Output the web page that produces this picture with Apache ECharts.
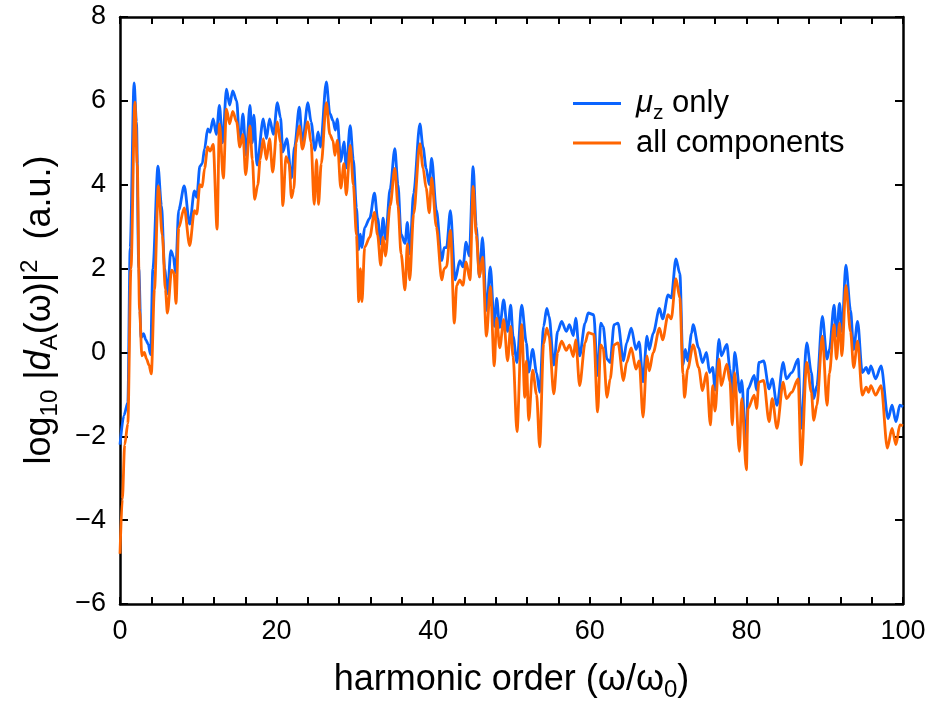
<!DOCTYPE html>
<html>
<head>
<meta charset="utf-8">
<script src="https://cdn.jsdelivr.net/npm/echarts@6/dist/echarts.min.js"></script>
<style>
  html, body { margin: 0; padding: 0; background: #fff; }
  #chart { width: 933px; height: 707px; }
</style>
</head>
<body>
<div id="chart"></div>
<script>
// Harmonic spectrum, dipole along z only
const harmonicMu = [
  0, 0.5, 1.0, 1.3, 1.8, 2.1, 2.4, 2.7, 3.0, 3.3,
  3.6, 3.9, 4.2, 4.85, 5.3, 5.7, 6.05, 6.5, 6.8, 7.1,
  7.5, 8.2, 8.9, 9.5, 9.8, 10.2, 10.5, 10.8, 11.2, 11.5,
  11.9, 12.3, 12.7, 13.1, 13.6, 14.0, 14.4, 14.9, 15.3, 15.7,
  16.1, 16.6, 16.9, 17.1, 17.5, 18.3, 18.7, 19.1, 19.6, 20.1,
  20.5, 20.8, 21.3, 21.9, 22.3, 22.9, 23.3, 24.0, 24.4, 24.9,
  25.3, 25.6, 26.35, 26.8, 27.2, 27.5, 27.75, 28.2, 28.6, 28.9,
  29.4, 29.8, 30.2, 30.5, 30.7, 30.9, 31.25, 31.9, 32.5, 32.9,
  33.3, 33.6, 33.9, 34.5, 35.1, 35.5, 35.9, 36.4, 36.7, 37.0,
  37.5, 38.3, 38.7, 39.1, 39.5, 39.8, 40.4, 41.1, 41.4, 41.7,
  42.2, 42.8, 43.4, 43.8, 44.2, 44.6, 45.1, 45.5, 45.9, 46.3,
  46.8, 47.3, 47.8, 48.1, 48.5, 49.0, 49.5, 49.9, 50.2, 50.7,
  51.3, 51.9, 52.2, 52.7, 53.2, 53.6, 54.1, 54.5, 54.8, 55.4,
  55.9, 56.4, 57.0, 57.4, 57.9, 58.2, 58.7, 59.4, 59.8, 60.5,
  61.0, 61.4, 61.7, 62.2, 62.6, 63.1, 63.6, 64.3, 64.7, 65.3,
  65.9, 66.3, 66.8, 67.3, 67.6, 68.1, 68.9, 69.3, 70.0, 70.4,
  71.0, 71.5, 71.9, 72.2, 72.5, 73.0, 73.2, 73.9, 74.4, 74.9,
  75.3, 75.7, 76.0, 76.5, 76.8, 77.5, 77.9, 78.2, 78.5, 79.2,
  79.4, 79.95, 80.2, 81.0, 81.3, 81.6, 82.2, 82.9, 83.3, 83.9,
  84.7, 85.1, 85.8, 86.6, 87.0, 87.7, 88.3, 88.6, 89.0, 89.7,
  90.3, 90.6, 91.2, 91.5, 91.9, 92.2, 92.7, 93.3, 93.7, 94.2,
  94.8, 95.3, 95.6, 95.9, 96.5, 97.2, 98.1, 98.6, 99.1, 99.6,
  100
];
const logMu = [
  -2.2, -1.5, -1.2, 2.5, 6.43, 5.5, 2.0, 0.35, 0.45, 0.3,
  0.2, -0.05, 2.0, 4.44, 3.5, 2.0, 1.4, 2.43, 2.3, 1.9,
  3.4, 3.97, 3.06, 3.85, 3.7, 4.44, 4.5, 4.86, 5.33, 5.25,
  5.57, 5.2, 5.89, 5.0, 6.28, 5.9, 6.24, 6.0, 4.94, 5.69,
  4.7, 5.89, 5.0, 5.66, 4.47, 5.57, 5.1, 5.57, 5.2, 5.96,
  5.6, 4.78, 5.1, 4.16, 4.9, 5.85, 5.0, 5.96, 5.5, 4.82,
  5.26, 4.9, 6.45, 5.7, 5.53, 5.3, 5.57, 4.55, 5.02, 4.4,
  5.41, 4.6, 3.45, 2.45, 2.82, 2.5, 2.98, 3.2, 3.8, 3.2,
  2.59, 3.2, 2.7, 3.9, 4.86, 4.0, 2.82, 2.6, 3.1, 2.35,
  3.8, 5.45, 4.9, 4.39, 4.0, 4.63, 3.4, 2.19, 2.5, 2.5,
  3.38, 1.73, 2.19, 2.04, 2.63, 2.3, 4.43, 3.0, 1.8, 2.74,
  1.0, 2.04, 0.62, 1.29, 0.6, 1.25, 0.5, 1.13, 0.39, -0.24,
  1.13, 0.23, -0.47, 0.07, -0.48, -0.95, 0.62, 1.05, 0.86, -0.3,
  0.5, 0.74, 0.5, 0.66, 0.4, 0.82, -0.08, 0.7, 0.94, 0.9,
  -0.55, 0.7, 0.62, -0.16, -0.24, 0.66, 0.7, -0.2, 0.23, 0.58,
  0.07, 0.25, -0.7, 0.39, 0.07, 0.46, 1.05, 0.8, 1.37, 1.3,
  2.23, 1.88, -0.3, 0.07, -0.2, 0.46, 0.66, 0.11, -0.24, 0.0,
  -0.48, -0.36, -0.9, 0.31, -0.08, 0.19, -0.4, -1.2, 0.0, -0.95,
  -0.67, -2.28, -0.87, -0.55, -0.9, -0.24, -0.2, -0.87, -0.63, -1.26,
  -0.24, -0.63, -0.48, -0.16, -1.81, 0.23, -0.48, -1.1, -0.79, 0.86,
  -0.16, 0.07, 1.13, 0.39, 1.17, 0.5, 2.08, 1.0, 0.07, 0.74,
  -0.48, -0.36, -0.5, -0.32, -0.63, -0.32, -1.58, -1.26, -1.65, -1.26,
  -1.3
];

// Harmonic spectrum, all dipole components
const harmonicAll = [
  0, 0.3, 0.6, 1.0, 1.4, 1.9, 2.2, 2.5, 2.8, 3.1,
  3.4, 3.7, 4.0, 4.4, 4.9, 5.4, 5.8, 6.05, 6.6, 6.9,
  7.15, 7.5, 8.2, 8.9, 9.5, 9.8, 10.2, 10.5, 10.8, 11.2,
  11.5, 11.9, 12.4, 12.7, 13.2, 13.6, 14.0, 14.4, 14.9, 15.3,
  15.7, 16.05, 16.6, 16.9, 17.2, 17.6, 17.9, 18.3, 18.7, 19.1,
  19.5, 20.1, 20.5, 20.8, 21.2, 21.6, 21.9, 22.2, 22.5, 22.9,
  23.3, 24.0, 24.4, 24.8, 25.1, 25.35, 25.7, 26.35, 26.8, 27.2,
  27.45, 27.75, 28.2, 28.6, 28.9, 29.4, 29.8, 30.2, 30.5, 30.7,
  30.9, 31.25, 31.9, 32.5, 32.9, 33.3, 33.6, 33.9, 34.5, 35.1,
  35.5, 35.9, 36.4, 36.7, 37.0, 37.5, 38.3, 38.7, 39.1, 39.5,
  39.8, 40.4, 41.1, 41.4, 41.7, 42.2, 42.7, 43.0, 43.4, 43.8,
  44.2, 44.7, 45.1, 45.5, 45.9, 46.3, 46.8, 47.3, 47.8, 48.1,
  48.5, 49.0, 49.5, 49.9, 50.2, 50.7, 51.3, 51.7, 51.9, 52.2,
  52.7, 53.2, 53.6, 54.1, 54.5, 54.8, 55.4, 55.9, 56.4, 57.0,
  57.4, 57.9, 58.2, 58.7, 59.4, 59.8, 60.5, 61.0, 61.4, 61.7,
  62.2, 62.6, 63.1, 63.6, 64.3, 64.7, 65.3, 65.9, 66.3, 66.8,
  67.3, 67.6, 68.1, 68.9, 69.3, 70.0, 70.4, 71.0, 71.5, 71.9,
  72.1, 72.5, 73.2, 73.9, 74.4, 74.9, 75.4, 75.7, 76.0, 76.5,
  76.8, 77.5, 77.9, 78.2, 78.5, 79.1, 79.4, 80.0, 80.2, 81.0,
  81.3, 81.6, 82.2, 82.9, 83.3, 83.9, 84.7, 85.1, 85.8, 86.6,
  87.0, 87.7, 88.3, 88.6, 89.0, 89.7, 90.3, 90.6, 91.2, 91.5,
  91.9, 92.2, 92.7, 93.3, 93.7, 94.2, 94.8, 95.3, 95.6, 95.9,
  96.5, 97.2, 98.0, 98.6, 99.1, 99.6, 100
];
const logAll = [
  -4.8, -3.5, -2.2, -1.7, 2.0, 5.97, 4.5, 1.0, -0.08, 0.0,
  -0.16, -0.3, -0.51, 1.5, 3.97, 2.8, 1.5, 0.94, 1.96, 1.9,
  1.17, 2.97, 3.45, 2.55, 3.38, 3.3, 4.0, 3.95, 4.39, 4.9,
  4.8, 4.96, 2.94, 5.45, 4.16, 5.8, 5.45, 5.75, 5.5, 4.9,
  5.2, 4.24, 5.4, 4.6, 3.65, 4.0, 4.6, 5.1, 4.6, 5.1,
  4.3, 5.5, 5.0, 3.5, 4.67, 4.5, 3.69, 3.9, 5.0, 5.4,
  4.85, 5.5, 5.0, 3.53, 4.6, 3.53, 4.5, 5.96, 5.2, 5.05,
  4.7, 5.06, 3.92, 4.5, 3.76, 4.94, 4.0, 2.8, 1.21, 2.0,
  1.21, 2.51, 2.75, 3.34, 2.8, 2.08, 2.75, 2.3, 3.5, 4.39,
  3.5, 2.35, 1.49, 2.59, 1.73, 3.3, 4.98, 4.4, 3.92, 3.33,
  4.16, 3.0, 1.73, 2.0, 2.04, 2.91, 0.7, 1.6, 1.73, 1.6,
  2.16, 1.73, 3.96, 2.8, 1.8, 2.27, 0.39, 1.57, -0.32, 0.82,
  0.11, 0.78, -0.2, 0.62, -0.1, -1.89, 0.66, -1.07, -0.2, -1.62,
  -0.42, -1.0, -2.25, 0.2, 0.58, 0.39, -0.99, 0.0, 0.27, 0.05,
  0.18, -0.1, 0.3, -0.79, 0.23, 0.47, 0.43, -1.42, 0.18, 0.1,
  -1.07, -0.63, 0.18, 0.23, -0.67, -0.24, 0.11, -0.4, -0.2, -1.54,
  -0.08, -0.44, 0.0, 0.58, 0.3, 0.9, 0.8, 1.76, 1.3, -0.5,
  -1.07, -0.4, 0.18, -0.36, -0.91, -0.48, -1.73, -0.79, -1.4, -0.16,
  -0.79, -0.28, -0.7, -1.73, -0.48, -2.36, -1.1, -2.8, -1.34, -1.02,
  -1.34, -0.71, -0.67, -1.65, -1.1, -1.81, -0.71, -1.1, -0.95, -0.63,
  -2.68, -0.24, -0.95, -1.62, -1.26, 0.39, -1.26, -0.5, 0.66, -0.16,
  0.7, -0.08, 1.6, 0.5, -0.36, 0.27, -1.02, -0.83, -0.95, -0.79,
  -1.02, -0.79, -2.28, -1.81, -2.2, -1.73, -1.75
];

const seriesNames = ['\u03bcz only', 'all components'];
const seriesColors = ['#0a64ff', '#ff6500'];

const FONT = '"Liberation Sans", Arial, Helvetica, sans-serif';
const toPairs = (xs, ys) => xs.map((x, i) => [x, ys[i]]);
const minus = v => String(v).replace('-', '\u2212');

const chart = echarts.init(document.getElementById('chart'), null, { renderer: 'canvas' });

const frameAxis = {
  axisLine: { show: true, onZero: false, lineStyle: { color: '#000', width: 2.5 } },
  splitLine: { show: false }
};

const option = {
  backgroundColor: '#fff',
  animation: false,
  textStyle: { fontFamily: FONT },
  grid: { left: 120, right: 30, top: 17, bottom: 96, containLabel: false },
  legend: {
    orient: 'vertical',
    left: 568,
    top: 83,
    itemGap: 4,
    icon: 'rect',
    itemWidth: 48,
    itemHeight: 3,
    data: seriesNames,
    formatter: name => name === seriesNames[0]
      ? '{i|\u03bc}{s|z}{m| only}'
      : '{n|all components}',
    textStyle: {
      fontFamily: FONT,
      color: '#000',
      rich: {
        i: { fontFamily: FONT, fontSize: 31, fontStyle: 'italic', lineHeight: 40, padding: [0, 0, 0, 10], color: '#000' },
        s: { fontFamily: FONT, fontSize: 21, lineHeight: 21, verticalAlign: 'bottom', color: '#000' },
        m: { fontFamily: FONT, fontSize: 31, lineHeight: 40, color: '#000' },
        n: { fontFamily: FONT, fontSize: 31, lineHeight: 40, padding: [0, 0, 0, 10], color: '#000' }
      }
    }
  },
  xAxis: [
    Object.assign({}, frameAxis, {
      type: 'value', position: 'bottom', min: 0, max: 100, interval: 20,
      axisTick: { show: true, inside: true, length: 7, lineStyle: { color: '#000', width: 2 } },
      minorTick: { show: true, splitNumber: 5, length: 7, lineStyle: { color: '#000', width: 2 } },
      axisLabel: { color: '#000', fontSize: 27, fontFamily: FONT, margin: 14 },
      name: '{n|harmonic order (\u03c9/\u03c9}{s|0}{n|)}',
      nameLocation: 'middle',
      nameGap: 54,
      nameTextStyle: {
        rich: {
          n: { fontFamily: FONT, fontSize: 36, lineHeight: 44, color: '#000' },
          s: { fontFamily: FONT, fontSize: 24, lineHeight: 24, verticalAlign: 'bottom', color: '#000' }
        }
      }
    }),
    Object.assign({}, frameAxis, {
      type: 'value', position: 'top', min: 0, max: 100, interval: 20,
      axisTick: { show: true, inside: true, length: 7, lineStyle: { color: '#000', width: 2 } },
      minorTick: { show: true, splitNumber: 5, length: 7, lineStyle: { color: '#000', width: 2 } },
      axisLabel: { show: false }
    })
  ],
  yAxis: [
    Object.assign({}, frameAxis, {
      type: 'value', position: 'left', min: -6, max: 8, interval: 2,
      axisTick: { show: true, inside: true, length: 8, lineStyle: { color: '#000', width: 2 } },
      axisLabel: { color: '#000', fontSize: 27, fontFamily: FONT, margin: 14, formatter: minus }
    }),
    Object.assign({}, frameAxis, {
      type: 'value', position: 'right', min: -6, max: 8, interval: 2,
      axisTick: { show: true, inside: true, length: 8, lineStyle: { color: '#000', width: 2 } },
      axisLabel: { show: false }
    })
  ],
  graphic: [{
    type: 'text',
    x: 40,
    y: 310,
    rotation: Math.PI / 2,
    style: {
      text: '{n|log}{s|10}{n| |}{i|d}{s|A}{n|(\u03c9)|}{p|2}{n|  (a.u.)}',
      align: 'center',
      verticalAlign: 'middle',
      fill: '#000',
      rich: {
        n: { fontFamily: FONT, fontSize: 36, lineHeight: 44, fill: '#000' },
        i: { fontFamily: FONT, fontSize: 36, lineHeight: 44, fontStyle: 'italic', fill: '#000' },
        s: { fontFamily: FONT, fontSize: 24, lineHeight: 24, verticalAlign: 'bottom', fill: '#000' },
        p: { fontFamily: FONT, fontSize: 24, lineHeight: 24, verticalAlign: 'top', fill: '#000' }
      }
    }
  }],
  series: [
    {
      name: seriesNames[0], type: 'line', xAxisIndex: 0, yAxisIndex: 0,
      data: toPairs(harmonicMu, logMu),
      showSymbol: false, symbol: 'none', smooth: 0.3, smoothMonotone: 'x',
      lineStyle: { color: seriesColors[0], width: 2.8 },
      itemStyle: { color: seriesColors[0] },
      z: 2
    },
    {
      name: seriesNames[1], type: 'line', xAxisIndex: 0, yAxisIndex: 0,
      data: toPairs(harmonicAll, logAll),
      showSymbol: false, symbol: 'none', smooth: 0.3, smoothMonotone: 'x',
      lineStyle: { color: seriesColors[1], width: 2.8 },
      itemStyle: { color: seriesColors[1] },
      z: 3
    }
  ]
};

chart.setOption(option);
</script>
</body>
</html>
